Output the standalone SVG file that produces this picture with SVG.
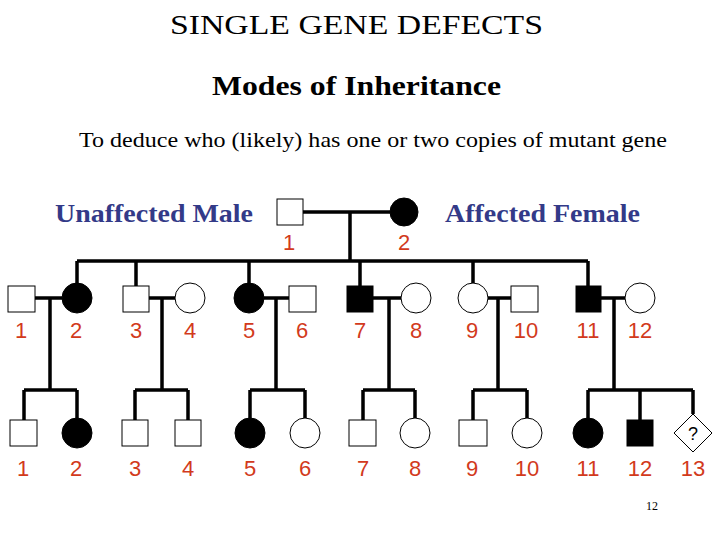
<svg xmlns="http://www.w3.org/2000/svg" width="720" height="540" viewBox="0 0 720 540">
<style>
.t{font-family:"Liberation Serif",serif;fill:#000}
.lg{font-family:"Liberation Serif",serif;font-weight:bold;font-size:25px;fill:#333a88}
.n{font-family:"Liberation Sans",sans-serif;font-size:22px;fill:#d23a1c;text-anchor:middle}
.u{fill:#fff;stroke:#000;stroke-width:1}
.a{fill:#000;stroke:#000;stroke-width:1}
.l{fill:none;stroke:#000;stroke-width:3.5}
</style>
<rect width="720" height="540" fill="#fff"/>
<text class="t" x="170" y="34" font-size="28" textLength="373" lengthAdjust="spacingAndGlyphs">SINGLE GENE DEFECTS</text>
<text class="t" x="212" y="95" font-size="28" font-weight="bold" textLength="289" lengthAdjust="spacingAndGlyphs">Modes of Inheritance</text>
<text class="t" x="79" y="147" font-size="22" textLength="588" lengthAdjust="spacingAndGlyphs">To deduce who (likely) has one or two copies of mutant gene</text>
<text class="lg" x="55" y="222" textLength="198" lengthAdjust="spacingAndGlyphs">Unaffected Male</text>
<text class="lg" x="445" y="222" textLength="195" lengthAdjust="spacingAndGlyphs">Affected Female</text>
<g id="connectors">
<path class="l" d="M303 212H390M350 212V261M77 261H588M77 261V284M136 261V286M249 261V284M360 261V286M473 261V284M588 261V286"/>
<path class="l" d="M35 298H62M50 298V390M24 390H77M24 390V420M77 390V418"/>
<path class="l" d="M149 298H175M162 298V390M135 390H188M135 390V420M188 390V420"/>
<path class="l" d="M264 298H289M276 298V390M250 390H305M250 390V418M305 390V418"/>
<path class="l" d="M373 298H401M389 298V390M363 390H415M363 390V420M415 390V418"/>
<path class="l" d="M488 298H511M498 298V390M473 390H527M473 390V420M527 390V418"/>
<path class="l" d="M601 298H625M614 298V390M588 390H693M588 390V418M640 390V420M693 390V414"/>
</g>
<g id="g1-1"><rect class="u" x="277" y="199" width="26" height="26"/><text class="n" x="289" y="250">1</text></g>
<g id="g1-2"><circle class="a" cx="404" cy="212" r="14"/><text class="n" x="404" y="250">2</text></g>
<g id="g2-1"><rect class="u" x="8" y="286" width="27" height="26"/><text class="n" x="21" y="338">1</text></g>
<g id="g2-2"><circle class="a" cx="77" cy="298" r="15"/><text class="n" x="76" y="338">2</text></g>
<g id="g2-3"><rect class="u" x="123" y="286" width="26" height="26"/><text class="n" x="136" y="338">3</text></g>
<g id="g2-4"><circle class="u" cx="190" cy="298" r="15"/><text class="n" x="190" y="338">4</text></g>
<g id="g2-5"><circle class="a" cx="249" cy="298" r="15"/><text class="n" x="249" y="338">5</text></g>
<g id="g2-6"><rect class="u" x="289" y="286" width="27" height="26"/><text class="n" x="302" y="338">6</text></g>
<g id="g2-7"><rect class="a" x="347" y="286" width="26" height="26"/><text class="n" x="360" y="338">7</text></g>
<g id="g2-8"><circle class="u" cx="416" cy="298" r="15"/><text class="n" x="416" y="338">8</text></g>
<g id="g2-9"><circle class="u" cx="473" cy="298" r="15"/><text class="n" x="472" y="338">9</text></g>
<g id="g2-10"><rect class="u" x="511" y="286" width="27" height="26"/><text class="n" x="526" y="338">10</text></g>
<g id="g2-11"><rect class="a" x="576" y="286" width="25" height="26"/><text class="n" x="588" y="338">11</text></g>
<g id="g2-12"><circle class="u" cx="640" cy="298" r="15"/><text class="n" x="640" y="338">12</text></g>
<g id="g3-1"><rect class="u" x="10" y="420" width="27" height="26"/><text class="n" x="23" y="476">1</text></g>
<g id="g3-2"><circle class="a" cx="77" cy="433" r="15"/><text class="n" x="76" y="476">2</text></g>
<g id="g3-3"><rect class="u" x="122" y="420" width="26" height="26"/><text class="n" x="135" y="476">3</text></g>
<g id="g3-4"><rect class="u" x="175" y="420" width="26" height="26"/><text class="n" x="188" y="476">4</text></g>
<g id="g3-5"><circle class="a" cx="250" cy="433" r="15"/><text class="n" x="250" y="476">5</text></g>
<g id="g3-6"><circle class="u" cx="305" cy="433" r="15"/><text class="n" x="305" y="476">6</text></g>
<g id="g3-7"><rect class="u" x="349" y="420" width="27" height="26"/><text class="n" x="363" y="476">7</text></g>
<g id="g3-8"><circle class="u" cx="415" cy="433" r="15"/><text class="n" x="415" y="476">8</text></g>
<g id="g3-9"><rect class="u" x="459" y="420" width="28" height="26"/><text class="n" x="472" y="476">9</text></g>
<g id="g3-10"><circle class="u" cx="527" cy="433" r="15"/><text class="n" x="527" y="476">10</text></g>
<g id="g3-11"><circle class="a" cx="588" cy="433" r="15"/><text class="n" x="588" y="476">11</text></g>
<g id="g3-12"><rect class="a" x="627" y="420" width="26" height="26"/><text class="n" x="640" y="476">12</text></g>
<g id="g3-13"><path class="u" d="M693 414L712 433L693 452L674 433Z"/><text x="693" y="440" font-family="Liberation Sans,sans-serif" font-size="18" text-anchor="middle">?</text><text class="n" x="693" y="476">13</text></g>
<text x="652" y="510" font-family="Liberation Serif,serif" font-size="12" text-anchor="middle">12</text>
</svg>
